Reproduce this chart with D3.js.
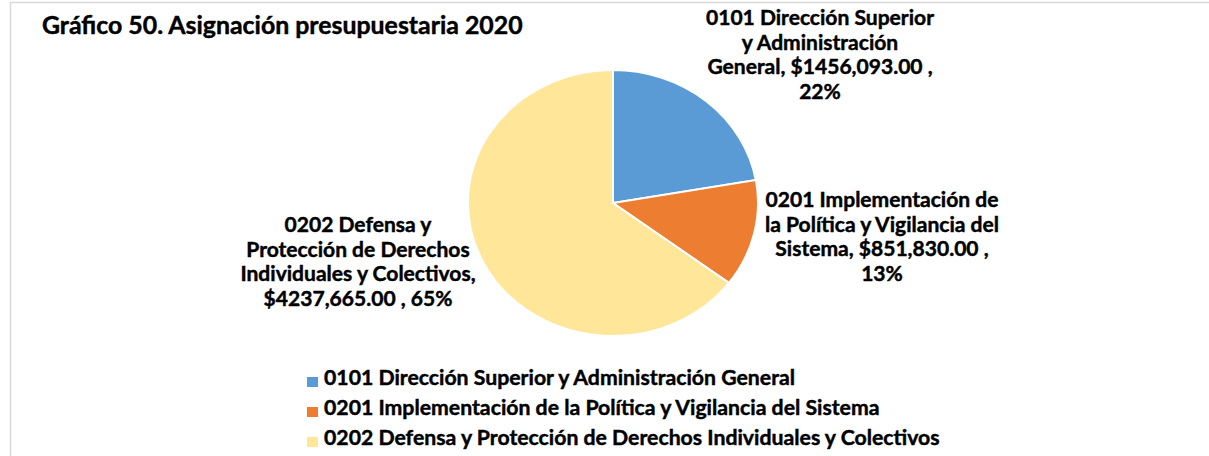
<!DOCTYPE html>
<html lang="es">
<head>
<meta charset="utf-8">
<script src="https://cdn.jsdelivr.net/npm/d3@7"></script>
<style>
  html, body { margin: 0; padding: 0; background: #ffffff; }
  svg { display: block; }
  text { font-family: Lato, "Noto Sans", sans-serif; font-weight: 700; fill: #000;
         stroke: #000; stroke-width: 0.45px; paint-order: stroke; white-space: pre; }
</style>
</head>
<body>
<svg id="chart" width="1209" height="456"></svg>
<script>
// Budget allocation 2020 by programme
const categories = [
  "0101 Dirección Superior y Administración General",
  "0201 Implementación de la Política y Vigilancia del Sistema",
  "0202 Defensa y Protección de Derechos Individuales y Colectivos"
];
const values = [1456093.00, 851830.00, 4237665.00];
const colors = ["#5B9BD5", "#ED7D31", "#FFE699"];
const title = "Gráfico 50. Asignación presupuestaria 2020";

// Wrapped data-label lines; {v} = amount, {p} = share
const labelLines = [
  ["0101 Dirección Superior", "y Administración", "General, {v} ,", "{p}"],
  ["0201 Implementación de", "la Política y Vigilancia del", "Sistema, {v} ,", "{p}"],
  ["0202 Defensa y", "Protección de Derechos", "Individuales y Colectivos,", "{v} , {p}"]
];
// Label block anchors (centre x, first baseline)
const labelAnchors = [[820, 25], [882, 207], [358, 232]];

const W = 1209, H = 456;
const svg = d3.select("#chart");

// Chart area frame
svg.append("rect")
  .attr("x", 10.5).attr("y", 2.5)
  .attr("width", W + 10).attr("height", H + 10)
  .attr("fill", "none").attr("stroke", "#d9d9d9").attr("stroke-width", 1.5);

const total = d3.sum(values);
const fmtNum = d3.format(",.2f");
// Amount written with only the thousands separator (e.g. $1456,093.00)
const moneyStr = v => {
  const s = fmtNum(v).split(",");
  if (s.length > 2) return "$" + s[0] + s[1] + "," + s.slice(2).join(",");
  return "$" + s.join(",");
};
const pct = v => Math.round(v / total * 100) + "%";

// Font size that makes the given text reach a target width
function fitSize(sel, target) {
  const w = sel.node().getComputedTextLength();
  const fs = parseFloat(sel.attr("font-size"));
  return fs * target / w;
}

// Title
const t = svg.append("text").attr("x", 42).attr("y", 34).attr("font-size", 20).text(title);
t.attr("font-size", fitSize(t, 481));

// Pie
const cx = 613, cy = 203, rx = 145, ry = 133;
const pie = d3.pie().sort(null).value(d => d)(values);
const arc = d3.arc().innerRadius(0).outerRadius(rx);
const g = svg.append("g").attr("transform", `translate(${cx},${cy}) scale(1,${ry / rx})`);
g.selectAll("path").data(pie).join("path")
  .attr("d", arc)
  .attr("fill", (d, i) => colors[i])
  .attr("stroke", "#ffffff")
  .attr("stroke-width", 2)
  .attr("vector-effect", "non-scaling-stroke");

// Data labels
const labelSize = (() => {
  const probe = svg.append("text").attr("font-size", 20).text(labelLines[1][0]);
  const fs = fitSize(probe, 233);
  probe.remove();
  return fs;
})();
const lineGap = 24.7;
labelLines.forEach((lines, i) => {
  const [ax, ay] = labelAnchors[i];
  const txt = svg.append("text").attr("text-anchor", "middle").attr("font-size", labelSize);
  lines.forEach((ln, k) => {
    txt.append("tspan")
      .attr("x", ax).attr("y", ay + k * lineGap)
      .text(ln.replace("{v}", moneyStr(values[i])).replace("{p}", pct(values[i])));
  });
});

// Legend
const legend = svg.append("g");
const legY = [385, 415, 445];
const items = legend.selectAll("g").data(categories).join("g");
items.append("rect")
  .attr("x", 307).attr("y", (d, i) => legY[i] - 8)
  .attr("width", 11).attr("height", 10)
  .attr("fill", (d, i) => colors[i]);
const legTexts = items.append("text")
  .attr("x", 324).attr("y", (d, i) => legY[i])
  .attr("font-size", 17).text(d => d);
const legSize = fitSize(d3.select(legTexts.nodes()[2]), 616);
legTexts.attr("font-size", legSize);
</script>
</body>
</html>
